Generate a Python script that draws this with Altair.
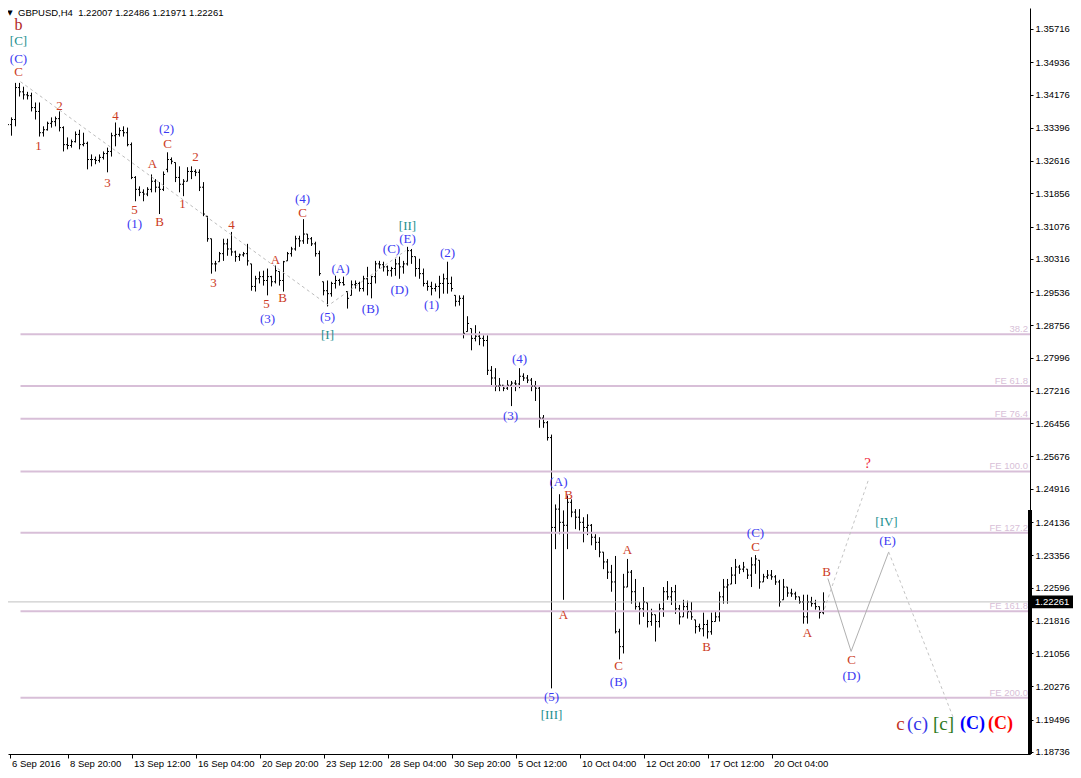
import altair as alt
import pandas as pd

# ---------------- data (prices in 1e-4 units) ----------------
highs_pips = [
    13328, 13352, 13364, 13445, 13445, 13436, 13424, 13422, 13399, 13399,
    13343, 13354, 13364, 13366, 13378, 13343, 13317, 13312, 13331, 13335,
    13328, 13307, 13277, 13272, 13277, 13284, 13293, 13328, 13352, 13340,
    13343, 13340, 13305, 13226, 13202, 13195, 13200, 13230, 13219, 13212,
    13237, 13282, 13270, 13258, 13249, 13219, 13247, 13249, 13242, 13242,
    13212, 13132, 13079, 13027, 13048, 13079, 13079, 13095, 13051, 13044,
    13048, 13067, 13020, 12992, 13002, 13004, 13009, 12992, 13016, 13002,
    13027, 13048, 13060, 13086, 13086, 13125, 13090, 13083, 13072, 13051,
    12978, 12981, 12978, 12992, 12985, 12990, 12955, 12981, 12981, 12978,
    12992, 13013, 12992, 13027, 13027, 13025, 13016, 13013, 13032, 13037,
    13027, 13060, 13055, 13037, 13032, 13009, 12981, 12978, 12974, 12992,
    12997, 13025, 12990, 12946, 12946, 12946, 12897, 12868, 12876, 12861,
    12852, 12852, 12780, 12775, 12752, 12735, 12747, 12745, 12747, 12775,
    12763, 12759, 12752, 12745, 12735, 12665, 12651, 12619, 12455, 12479,
    12441, 12476, 12467, 12444, 12444, 12425, 12432, 12409, 12385, 12378,
    12343, 12327, 12313, 12334, 12163, 12292, 12327, 12301, 12280, 12226,
    12261, 12224, 12210, 12196, 12222, 12261, 12275, 12261, 12266, 12219,
    12231, 12229, 12226, 12184, 12175, 12201, 12184, 12201, 12203, 12250,
    12280, 12280, 12308, 12327, 12313, 12320, 12303, 12331, 12336, 12324,
    12292, 12301, 12301, 12289, 12278, 12280, 12261, 12257, 12250, 12238,
    12243, 12243, 12238, 12231, 12215, 12248.6,
]
lows_pips = [
    13305, 13319, 13321, 13343, 13413, 13406, 13406, 13378, 13359, 13319,
    13319, 13333, 13340, 13343, 13331, 13284, 13289, 13293, 13305, 13289,
    13296, 13242, 13249, 13254, 13258, 13265, 13235, 13272, 13296, 13319,
    13319, 13296, 13219, 13167, 13179, 13167, 13179, 13188, 13188, 13137,
    13191, 13235, 13254, 13212, 13188, 13179, 13214, 13219, 13226, 13191,
    13132, 13072, 12997, 13002, 13025, 13027, 13039, 13039, 13025, 13027,
    13037, 13016, 12957, 12955, 12974, 12969, 12946, 12967, 12974, 12969,
    12955, 13027, 13037, 13051, 13060, 13067, 13067, 13062, 13037, 12992,
    12946, 12920, 12943, 12962, 12969, 12969, 12915, 12946, 12962, 12955,
    12955, 12946, 12939, 12974, 13009, 13002, 12992, 12990, 12992, 12985,
    12997, 13016, 13020, 12990, 12985, 12967, 12957, 12946, 12955, 12939,
    12950, 12950, 12955, 12920, 12922, 12845, 12861, 12817, 12838, 12829,
    12826, 12759, 12735, 12721, 12721, 12721, 12724, 12686, 12721, 12728,
    12745, 12740, 12721, 12698, 12635, 12635, 12605, 12023, 12350, 12385,
    12231, 12350, 12425, 12397, 12394, 12366, 12383, 12359, 12348, 12331,
    12303, 12280, 12250, 12152, 12091, 12105, 12261, 12222, 12208, 12173,
    12191, 12166, 12170, 12133, 12166, 12191, 12231, 12219, 12198, 12173,
    12191, 12187, 12184, 12152, 12156, 12145, 12140, 12149, 12180, 12180,
    12222, 12222, 12268, 12268, 12292, 12296, 12280, 12261, 12292, 12257,
    12273, 12280, 12278, 12266, 12215, 12231, 12238, 12238, 12231, 12222,
    12175, 12175, 12215, 12208, 12187, 12197.1,
]
opens_pips = [
    13312, 13321, 13347, 13359, 13434, 13424, 13417, 13415, 13387, 13378,
    13328, 13335, 13350, 13354, 13361, 13340, 13300, 13298, 13307, 13324,
    13300, 13303, 13265, 13265, 13263, 13270, 13279, 13284, 13321, 13324,
    13333, 13328, 13300, 13223, 13195, 13188, 13184, 13195, 13214, 13200,
    13195, 13242, 13265, 13258, 13223, 13207, 13214, 13237, 13237, 13235,
    13200, 13132, 13079, 13020, 13025, 13044, 13067, 13055, 13048, 13037,
    13041, 13044, 13020, 12967, 12985, 12990, 12981, 12990, 12978, 13002,
    12981, 13027, 13044, 13055, 13079, 13074, 13090, 13079, 13067, 13044,
    12978, 12957, 12950, 12974, 12981, 12976, 12955, 12946, 12971, 12974,
    12962, 12985, 12974, 12990, 13020, 13018, 13013, 13004, 13009, 13020,
    13013, 13020, 13051, 13037, 13009, 12997, 12974, 12967, 12962, 12967,
    12974, 12985, 12974, 12946, 12932, 12939, 12861, 12868, 12845, 12850,
    12845, 12840, 12770, 12752, 12733, 12735, 12728, 12735, 12740, 12738,
    12756, 12752, 12747, 12733, 12728, 12658, 12647, 12612, 12401, 12444,
    12413, 12406, 12460, 12437, 12425, 12413, 12401, 12406, 12378, 12366,
    12343, 12320, 12296, 12273, 12156, 12121, 12261, 12296, 12250, 12215,
    12210, 12224, 12180, 12196, 12180, 12210, 12250, 12238, 12250, 12210,
    12191, 12215, 12203, 12184, 12168, 12163, 12173, 12156, 12180, 12191,
    12238, 12261, 12268, 12289, 12308, 12303, 12303, 12289, 12313, 12324,
    12273, 12285, 12289, 12285, 12273, 12231, 12261, 12247, 12245, 12238,
    12226, 12191, 12226, 12222, 12215, 12200.7,
]
closes_pips = [
    13321, 13347, 13359, 13434, 13424, 13417, 13415, 13387, 13378, 13328,
    13335, 13350, 13354, 13361, 13340, 13300, 13298, 13307, 13324, 13300,
    13303, 13265, 13265, 13263, 13270, 13279, 13284, 13321, 13324, 13333,
    13328, 13300, 13223, 13195, 13188, 13184, 13195, 13214, 13200, 13195,
    13230, 13265, 13261, 13223, 13207, 13214, 13237, 13237, 13235, 13200,
    13137, 13079, 13020, 13020, 13044, 13067, 13055, 13048, 13037, 13041,
    13044, 13027, 12967, 12985, 12990, 12981, 12990, 12978, 13004, 12981,
    13025, 13044, 13055, 13079, 13074, 13090, 13079, 13067, 13044, 12997,
    12957, 12950, 12974, 12981, 12976, 12971, 12939, 12971, 12974, 12962,
    12985, 12974, 12990, 13020, 13018, 13013, 13004, 13009, 13020, 13013,
    13020, 13051, 13037, 13009, 12997, 12974, 12967, 12962, 12967, 12974,
    12985, 12974, 12962, 12932, 12939, 12857, 12880, 12845, 12850, 12845,
    12840, 12770, 12752, 12733, 12735, 12728, 12735, 12740, 12738, 12756,
    12752, 12747, 12733, 12728, 12658, 12647, 12612, 12401, 12444, 12413,
    12406, 12460, 12437, 12425, 12413, 12401, 12406, 12378, 12366, 12343,
    12320, 12296, 12273, 12156, 12121, 12261, 12296, 12250, 12215, 12210,
    12226, 12180, 12196, 12180, 12210, 12250, 12238, 12250, 12210, 12191,
    12215, 12203, 12191, 12168, 12163, 12173, 12156, 12180, 12191, 12238,
    12261, 12266, 12289, 12308, 12303, 12308, 12289, 12313, 12327, 12273,
    12285, 12289, 12285, 12273, 12226, 12261, 12247, 12245, 12238, 12226,
    12191, 12226, 12222, 12215, 12201, 12226.1,
]

symbol = "GBPUSD,H4"

y_ticks = [1.35716, 1.34936, 1.34176, 1.33396, 1.32616, 1.31856, 1.31076,
           1.30316, 1.29536, 1.28756, 1.27996, 1.27216, 1.26456, 1.25676,
           1.24916, 1.24136, 1.23356, 1.22596, 1.21816, 1.21056, 1.20276,
           1.19496, 1.18736]

date_labels = ["6 Sep 2016", "8 Sep 20:00", "13 Sep 12:00", "16 Sep 04:00",
               "20 Sep 20:00", "23 Sep 12:00", "28 Sep 04:00", "30 Sep 20:00",
               "5 Oct 12:00", "10 Oct 04:00", "12 Oct 20:00", "17 Oct 12:00",
               "20 Oct 04:00"]
date_ticks = [1.5, 16, 32, 48, 64, 80, 96, 112, 128, 144, 160, 176, 192]

fib_names = ["38.2", "FE 61.8", "FE 76.4", "FE 100.0", "FE 127.2", "FE 161.8", "FE 200.0"]
fib_prices = [1.28547, 1.27333, 1.26563, 1.25325, 1.23884, 1.22040, 1.20008]
fib_start = 4.25

# dashed trend line through [C] top, [I], [II]
trend_x = [4.25, 81.25, 100.5]
trend_p = [1.34478, 1.29225, 1.30509]
# projections
proj_solid_x = [206.1, 211.9, 221.3]
proj_solid_p = [1.22810, 1.21099, 1.23434]
proj_down_x = [221.3, 237.6]
proj_down_p = [1.23434, 1.19504]
proj_up_x = [205.25, 216.3]
proj_up_p = [1.22102, 1.25145]

# wave labels: text, bar position, price, degree
lab_text = ["b", "[C]", "(C)", "C", "1", "2", "3", "4", "5", "(1)", "A", "B", "(2)", "C",
            "1", "2", "3", "4", "5", "(3)", "A", "B", "(4)", "C", "(5)", "[I]", "(A)", "(B)",
            "(C)", "(D)", "[II]", "(E)", "(1)", "(2)", "(4)", "(3)", "(A)", "B", "A", "(5)",
            "[III]", "A", "C", "(B)", "B", "(C)", "C", "A", "B", "?", "[IV]", "(E)", "C", "(D)",
            "c", "(c)", "[c]", "(C)", "(C)"]
lab_x = [3.75, 3.75, 3.75, 3.75, 8.75, 14.0, 26.0, 28.0, 32.75, 32.75, 37.25, 39.0, 40.75, 41.0,
         44.75, 48.0, 52.5, 57.0, 65.75, 66.0, 68.0, 69.75, 74.75, 74.75, 81.0, 81.0, 84.25, 91.75,
         97.0, 99.0, 101.0, 101.0, 107.0, 111.0, 129.0, 126.75, 138.75, 141.25, 140.0, 137.0,
         137.0, 156.0, 153.75, 153.75, 175.75, 188.0, 188.0, 201.0, 205.75, 216.0, 220.75, 221.0,
         212.0, 212.0, 224.25, 228.5, 235.0, 242.25, 249.25]
lab_p = [1.35809, 1.35436, 1.35015, 1.34712, 1.32961, 1.33918, 1.32097, 1.33661, 1.31466,
         1.31139, 1.32540, 1.31186, 1.33357, 1.33007, 1.31606, 1.32704, 1.29762, 1.31116,
         1.29248, 1.28898, 1.30299, 1.29388, 1.31725, 1.31395, 1.28944, 1.28524, 1.30088,
         1.29131, 1.30555, 1.29575, 1.31093, 1.30789, 1.29225, 1.30462, 1.27964, 1.26633,
         1.25068, 1.24765, 1.21963, 1.20025, 1.19604, 1.23480, 1.20748, 1.20375, 1.21192,
         1.23877, 1.23550, 1.21542, 1.22967, 1.25512, 1.24134, 1.23691, 1.20889, 1.20515,
         1.19394, 1.19394, 1.19394, 1.19394, 1.19394]
lab_deg = ["cycle", "primary", "inter", "minor", "minor", "minor", "minor", "minor", "minor",
           "inter", "minor", "minor", "inter", "minor", "minor", "minor", "minor", "minor",
           "minor", "inter", "minor", "minor", "inter", "minor", "inter", "primary", "inter",
           "inter", "inter", "inter", "primary", "inter", "inter", "inter", "inter", "inter",
           "inter", "minor", "minor", "inter", "primary", "minor", "minor", "inter", "minor",
           "inter", "minor", "minor", "minor", "query", "primary", "inter", "minor", "inter",
           "sum_minor", "sum_inter", "sum_primary", "sum_blue", "sum_red"]

# ---------------- styles ----------------
deg_color = {"cycle": "#b01c1c", "primary": "#23908f", "inter": "#3a3af2", "minor": "#cc3b24",
             "query": "#f0283c", "sum_minor": "#c2341f", "sum_inter": "#3535e8",
             "sum_primary": "#2f7a1c", "sum_blue": "#0000ff", "sum_red": "#ff0000"}
deg_size = {"cycle": 16, "primary": 13, "inter": 13, "minor": 13, "query": 15,
            "sum_minor": 19, "sum_inter": 19, "sum_primary": 19, "sum_blue": 18, "sum_red": 18}
deg_bold = {"sum_blue", "sum_red"}

FIB_COL = "#d8bfd8"
SANS = "Liberation Sans"
SERIF = "Liberation Serif"
W, H = 1022, 746
RIGHT_PAD = 43

# ---------------- frames ----------------
P = 10000.0
bars = pd.DataFrame({
    "i": list(range(len(highs_pips))),
    "open": [v / P for v in opens_pips],
    "high": [v / P for v in highs_pips],
    "low": [v / P for v in lows_pips],
    "close": [v / P for v in closes_pips],
})
last = bars.iloc[-1]
header = f"{symbol}\u00a0 {last['open']:.5f} {last['high']:.5f} {last['low']:.5f} {last['close']:.5f}"
last_price = round(float(last["close"]), 5)

fib = pd.DataFrame({"name": fib_names, "p": fib_prices, "x0": [fib_start] * len(fib_prices)})
labels = pd.DataFrame({"t": lab_text, "x": lab_x, "p": lab_p, "deg": lab_deg})
labels["color"] = labels["deg"].map(deg_color)
labels["fs"] = labels["deg"].map(deg_size)
labels_norm = labels[~labels["deg"].isin(deg_bold)]
labels_bold = labels[labels["deg"].isin(deg_bold)]

xs = alt.Scale(domain=[1.125, 1.125 + W / 4.0], nice=False, zero=False)
ys = alt.Scale(domain=[1.18689, 1.36209], nice=False, zero=False)

label_arr = "[" + ",".join("'" + s + "'" for s in date_labels) + "]"
x_axis = alt.Axis(orient="bottom", values=date_ticks, labelExpr=f"{label_arr}[round(datum.value / 16)]",
                  grid=False, title="", tickSize=4, tickColor="black", domainColor="black",
                  labelAlign="left", labelBaseline="top", labelPadding=0, labelOffset=2,
                  labelFont=SANS, labelFontSize=9.5, labelColor="black",
                  labelOverlap=False, labelFlush=False)
y_axis = alt.Axis(orient="right", values=y_ticks, format=".5f", grid=False, title="",
                  tickSize=3, tickColor="black", domainColor="black", labelPadding=2,
                  labelFont=SANS, labelFontSize=9.5, labelColor="black",
                  labelOverlap=False, labelFlush=False)


def X(field):
    return alt.X(field, scale=xs, axis=x_axis)


def Y(field):
    return alt.Y(field, scale=ys, axis=y_axis)


# ---------------- layers ----------------
fib_lines = alt.Chart(fib).mark_rule(color=FIB_COL, strokeWidth=2).encode(
    x=X("x0:Q"), x2=alt.value(W), y=Y("p:Q"))
fib_text = alt.Chart(fib).mark_text(align="right", baseline="alphabetic", dy=-2, font=SANS,
                                    fontSize=9.5, color=FIB_COL).encode(
    x=alt.value(W - 2), y=Y("p:Q"), text="name:N")

cur = pd.DataFrame({"p": [last_price], "t": [f"{last_price:.5f}"]})
cur_line = alt.Chart(cur).mark_rule(color="#c0c0c0", strokeWidth=1).encode(
    x=alt.value(0), x2=alt.value(W), y=Y("p:Q"))

trend = alt.Chart(pd.DataFrame({"x": trend_x, "p": trend_p})).mark_line(
    color="#bdbdbd", strokeWidth=1, strokeDash=[3, 3]).encode(x=X("x:Q"), y=Y("p:Q"))
proj_s = alt.Chart(pd.DataFrame({"x": proj_solid_x, "p": proj_solid_p})).mark_line(
    color="#b0b0b0", strokeWidth=1).encode(x=X("x:Q"), y=Y("p:Q"))
proj_d = alt.Chart(pd.DataFrame({"x": proj_down_x, "p": proj_down_p})).mark_line(
    color="#c4c4c4", strokeWidth=1, strokeDash=[3, 3]).encode(x=X("x:Q"), y=Y("p:Q"))
proj_u = alt.Chart(pd.DataFrame({"x": proj_up_x, "p": proj_up_p})).mark_line(
    color="#c4c4c4", strokeWidth=1, strokeDash=[3, 3]).encode(x=X("x:Q"), y=Y("p:Q"))

hl = alt.Chart(bars).mark_rule(color="black", strokeWidth=1, clip=True).encode(
    x=X("i:Q"), y=Y("high:Q"), y2="low:Q")
o_tick = alt.Chart(bars).transform_calculate(xo="datum.i - 0.375").mark_rule(
    color="black", strokeWidth=1, clip=True).encode(x=X("xo:Q"), x2="i:Q", y=Y("open:Q"))
c_tick = alt.Chart(bars).transform_calculate(xc="datum.i + 0.375").mark_rule(
    color="black", strokeWidth=1, clip=True).encode(x=X("i:Q"), x2="xc:Q", y=Y("close:Q"))

wave = alt.Chart(labels_norm).mark_text(font=SERIF, align="center", baseline="middle").encode(
    x=X("x:Q"), y=Y("p:Q"), text="t:N",
    color=alt.Color("color:N", scale=None), size=alt.Size("fs:Q", scale=None))
wave_bold = alt.Chart(labels_bold).mark_text(font=SERIF, fontWeight="bold", align="center",
                                             baseline="middle").encode(
    x=X("x:Q"), y=Y("p:Q"), text="t:N",
    color=alt.Color("color:N", scale=None), size=alt.Size("fs:Q", scale=None))

axis_bar = alt.Chart(cur).mark_rule(color="black", strokeWidth=4).encode(
    x=alt.value(W), y=alt.value(502), y2=alt.value(H))
price_box = alt.Chart(cur).transform_calculate(
    ph="datum.p + 0.0015", pl="datum.p - 0.0015").mark_rect(color="black").encode(
    x=alt.value(W + 2), x2=alt.value(W + RIGHT_PAD), y=Y("ph:Q"), y2="pl:Q")
price_txt = alt.Chart(cur).mark_text(align="left", baseline="middle", font=SANS, fontSize=9.5,
                                     color="white").encode(
    x=alt.value(W + 5), y=Y("p:Q"), text="t:N")

head = pd.DataFrame({"t": [header], "tri": ["\u25bc"]})
head_txt = alt.Chart(head).mark_text(align="left", baseline="top", font=SANS, fontSize=9.5,
                                     color="black").encode(
    x=alt.value(10), y=alt.value(0), text="t:N")
head_tri = alt.Chart(head).mark_text(align="center", baseline="top", font="DejaVu Sans",
                                     fontSize=7, color="black").encode(
    x=alt.value(2), y=alt.value(1), text="tri:N")

chart = alt.layer(
    hl, fib_lines, fib_text, cur_line, trend, proj_s, proj_d, proj_u,
    o_tick, c_tick, wave, wave_bold, axis_bar, price_box, price_txt, head_txt, head_tri,
).properties(
    width=W, height=H,
    padding={"left": 0, "top": 0, "right": RIGHT_PAD, "bottom": 15},
    autosize=alt.AutoSizeParams(type="none"),
    background="white",
).configure_view(stroke="transparent")

chart.save("out.html", embed_options={"renderer": "svg", "actions": False})
